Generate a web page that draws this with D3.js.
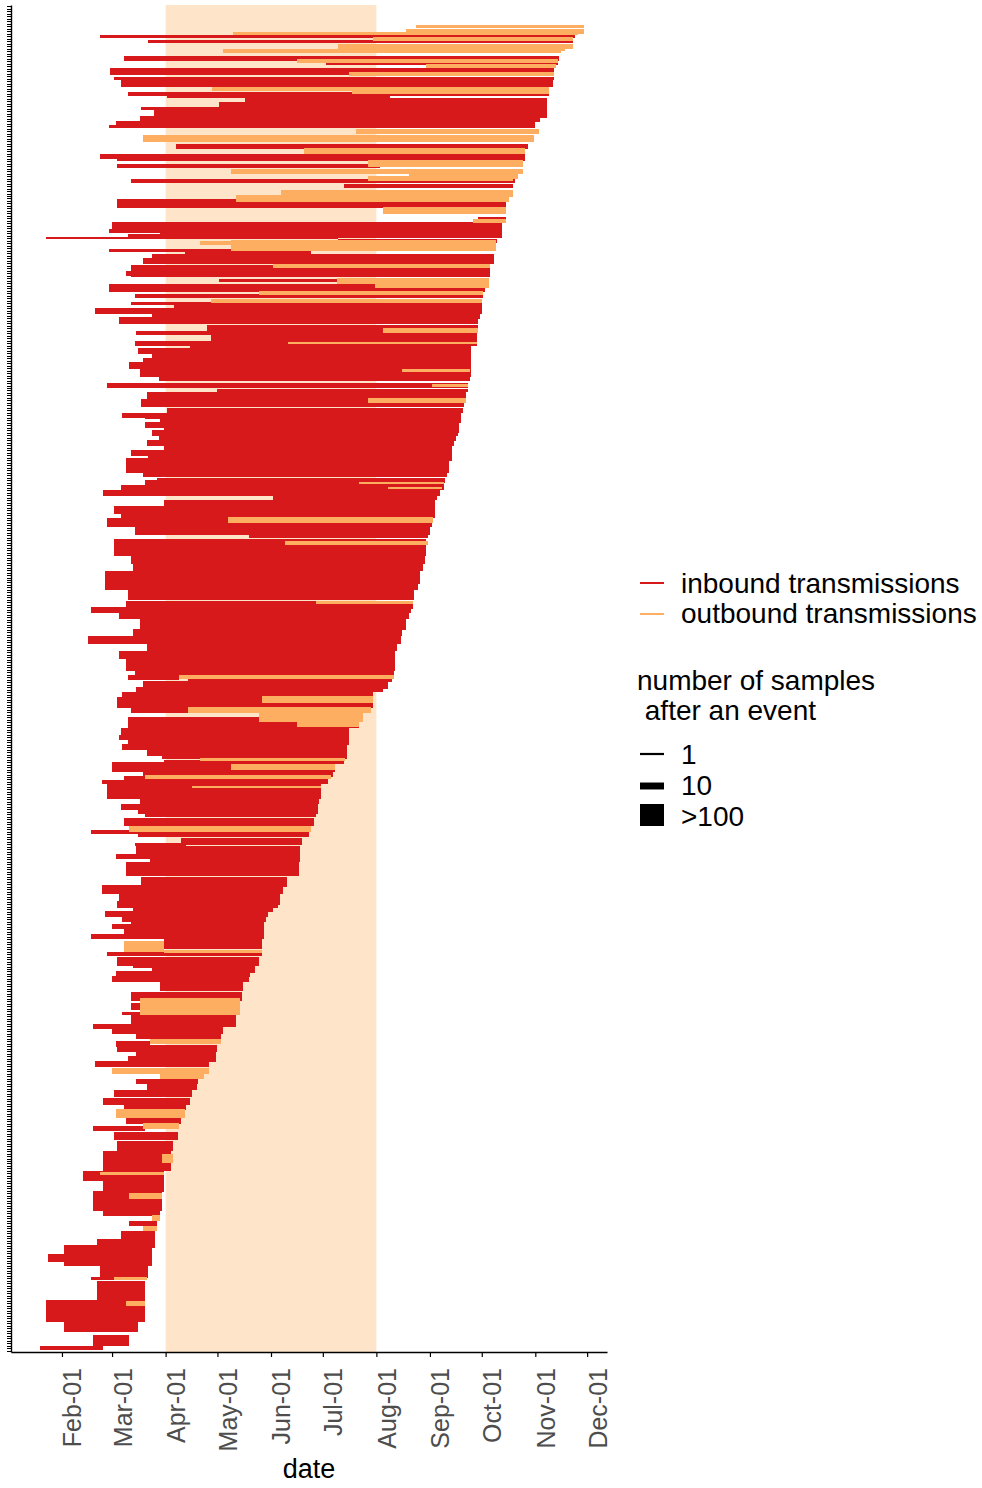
<!DOCTYPE html>
<html>
<head>
<meta charset="utf-8">
<script src="https://cdn.jsdelivr.net/npm/d3@7"></script>
<style>
  body { margin: 0; background: #fff; }
  svg { display: block; font-family: "Liberation Sans", Arial, sans-serif; }
</style>
</head>
<body>
<div id="chart"></div>
<script>
// one row per lineage (1 = top), days counted from 1 Jan 2020
// [row, first day, last day, number of samples]
const rowCount = 540;

const inbound = [
  [13,53,328,2],[15,81,327,2],[22,67,319,5],[24,184,318,1],[27,59,316,10],[30,61,316,2],
  [32,65,315,10],[36,69,313,3],[37,92,221,2],[39,137,312,7],[41,122,312,13],[42,77,312,2],
  [44,84,312,13],[46,76,308,7],[48,62,305,5],[49,58,305,2],[57,97,301,5],[61,53,299,5],
  [62,63,299,3],[65,63,215,3],[71,71,293,3],[73,194,292,5],[80,63,288,17],[86,272,288,1],
  [89,60,286,13],[91,58,286,3],[92,88,286,13],[93,69,286,3],[94,22,191,1],[95,191,283,3],
  [99,58,129,2],[100,102,175,3],[102,83,281,17],[103,78,281,7],[107,71,279,30],[108,68,279,5],
  [111,122,216,2],[114,58,276,13],[117,73,275,4],[120,71,274,2],[122,96,274,21],[123,50,274,7],
  [125,83,273,7],[127,64,272,12],[130,115,272,10],[132,74,271,3],[133,117,271,21],[136,73,271,5],
  [137,105,268,7],[139,75,268,7],[141,83,268,7],[143,78,268,7],[145,70,268,12],[148,76,268,12],
  [150,87,267,7],[153,57,266,7],[155,121,266,3],[157,80,265,12],[160,77,264,12],[163,92,263,7],
  [165,66,262,7],[166,79,122,1],[167,88,262,7],[169,79,261,7],[171,90,261,5],[172,83,260,7],
  [174,87,259,7],[176,80,258,7],[178,90,257,7],[180,71,257,7],[182,81,257,7],[185,68,255,50],
  [188,85,254,3],[189,78,254,3],[191,86,253,5],[192,79,252,5],[194,65,252,5],[196,55,250,7],
  [198,153,248,5],[200,90,247,7],[203,61,247,12],[205,65,247,7],[208,57,245,17],[211,73,244,17],
  [213,139,243,5],[218,61,242,60],[223,71,241,12],[225,76,107,1],[226,72,240,12],[230,56,238,30],
  [233,56,237,2],[234,56,237,7],[235,91,140,1],[237,69,235,21],[241,68,234,12],[243,48,233,7],
  [245,64,232,12],[249,76,230,25],[252,72,228,12],[255,46,227,12],[258,80,225,12],[261,64,224,12],
  [265,68,224,35],[268,73,223,5],[270,69,99,5],[271,104,222,4],[273,78,220,13],[275,74,217,5],
  [277,66,211,6],[280,63,211,25],[283,71,104,7],[288,69,203,25],[292,65,197,12],[294,64,197,5],
  [295,71,197,5],[296,69,197,5],[298,66,196,7],[300,80,196,12],[302,89,196,3],[304,90,194,5],
  [306,60,189,17],[309,78,188,7],[311,67,185,13],[312,54,185,5],[316,57,181,46],[320,76,180,5],
  [322,65,179,7],[324,75,179,5],[325,79,178,5],[328,67,177,12],[332,48,174,3],[333,75,174,7],
  [336,100,170,10],[337,73,103,2],[340,74,169,25],[342,62,169,5],[343,82,169,7],[347,68,168,40],
  [352,77,161,21],[355,54,159,17],[359,64,157,25],[361,63,156,10],[363,72,153,7],[365,56,150,7],
  [367,66,149,7],[369,71,148,3],[370,60,148,5],[373,67,148,21],[374,48,147,7],[377,90,147,21],
  [381,57,147,5],[384,63,145,17],[386,72,107,1],[387,83,143,13],[389,62,140,7],[391,60,139,7],
  [394,88,136,21],[398,71,135,17],[402,71,76,10],[405,66,76,2],[408,71,132,30],[410,49,124,6],
  [412,60,124,5],[414,74,123,7],[417,62,82,7],[419,63,121,10],[421,74,120,7],[423,69,120,7],
  [425,50,116,7],[432,74,110,5],[434,80,109,10],[437,61,106,10],[440,55,105,10],[442,67,103,10],
  [448,68,100,7],[451,49,79,6],[454,61,98,13],[458,63,95,21],[464,55,94,90],[470,43,90,21],
  [474,55,90,35],[480,49,89,83],[485,55,88,7],[489,70,86,6],[495,65,85,40],[497,51,85,17],
  [502,32,83,90],[503,23,83,13],[508,53,81,40],[511,48,61,2],[516,51,79,83],[524,22,79,100],
  [530,32,75,35],[536,49,70,25],[539,18,55,3]
];

const outbound = [
  [9,236,333,3],[11,230,333,5],[12,130,330,2],[14,211,327,3],[17,191,327,4],[18,223,322,3],
  [19,124,320,3],[23,167,318,3],[25,242,317,3],[28,197,316,4],[34,118,313,4],[35,199,313,5],
  [51,201,307,5],[54,78,304,10],[59,171,299,7],[64,208,298,10],[67,129,298,5],[69,232,295,5],
  [70,208,292,5],[76,158,292,10],[78,132,290,8],[83,217,288,10],[87,269,288,4],[96,111,282,3],
  [97,129,282,25],[105,153,279,3],[111,190,278,7],[113,212,278,3],[116,145,275,4],[119,117,274,4],
  [131,217,272,4],[136,162,271,1],[147,228,267,3],[153,245,266,2],[159,208,265,5],[192,203,252,1],
  [194,220,251,1],[207,127,246,7],[216,160,243,3],[240,178,234,3],[270,99,223,4],[279,147,211,10],
  [283,104,210,7],[286,145,205,17],[289,167,203,4],[303,111,195,3],[306,129,189,7],[310,79,187,4],
  [314,106,181,1],[331,70,175,7],[378,67,90,25],[380,90,147,2],[402,76,134,60],[416,82,123,6],
  [428,60,116,7],[430,88,113,8],[445,62,102,17],[450,78,99,6],[463,89,95,17],[469,53,90,3],
  [478,70,89,7],[487,83,88,8],[491,78,86,6],[511,61,80,2],[521,68,79,5]
];

const monthTicks = ["2020-02-01","2020-03-01","2020-04-01","2020-05-01","2020-06-01","2020-07-01",
                    "2020-08-01","2020-09-01","2020-10-01","2020-11-01","2020-12-01"];
const monthLabels = ["Feb-01","Mar-01","Apr-01","May-01","Jun-01","Jul-01",
                     "Aug-01","Sep-01","Oct-01","Nov-01","Dec-01"];
const shadeWindow = ["2020-04-01", "2020-08-01"];
const dirLabels = ["inbound transmissions", "outbound transmissions"];
const sizeTitle = ["number of samples", " after an event"];
const sizeBreaks = [1, 10, 100];
const sizeLabels = ["1", "10", ">100"];

const width = 982, height = 1488;
const plot = { left: 11, right: 607, top: 5, bottom: 1352 };

const parse = d3.utcParse("%Y-%m-%d");
const day = d => new Date(Date.UTC(2020, 0, 1) + d * 864e5);

const svg = d3.select("#chart").append("svg")
    .attr("width", width)
    .attr("height", height);

svg.append("rect").attr("width", width).attr("height", height).attr("fill", "#fff");

// Scales
const x = d3.scaleUtc()
    .domain([day(1.5), day(346.5)])
    .range([plot.left, plot.right]);

const y = d3.scaleLinear()
    .domain([0.4, rowCount + 0.6])
    .range([plot.top, plot.bottom]);

const lw = d3.scaleSqrt().domain([0, 100]).range([0, 22]).clamp(true);

const colour = d3.scaleOrdinal()
    .domain(dirLabels)
    .range(["#D7191C", "#FDAE61"]);

// Shaded window
svg.append("rect")
    .attr("x", x(parse(shadeWindow[0])))
    .attr("width", x(parse(shadeWindow[1])) - x(parse(shadeWindow[0])))
    .attr("y", plot.top)
    .attr("height", plot.bottom - plot.top)
    .attr("fill", "#FEE5C9");

// Segments (crisp edges so touching bars don't leave seams)
function drawSegments(data, label) {
    svg.append("g")
        .attr("shape-rendering", "crispEdges")
        .selectAll("line")
        .data(data)
        .join("line")
        .attr("x1", d => x(day(d[1])))
        .attr("x2", d => x(day(d[2])))
        .attr("y1", d => y(d[0]))
        .attr("y2", d => y(d[0]))
        .attr("stroke", colour(label))
        .attr("stroke-width", d => lw(d[3]))
        .attr("stroke-linecap", "butt");
}
drawSegments(inbound, dirLabels[0]);
drawSegments(outbound, dirLabels[1]);

// Axes
const xAxis = svg.append("g")
    .attr("transform", `translate(0,${plot.bottom})`)
    .call(d3.axisBottom(x)
        .tickValues(monthTicks.map(parse))
        .tickFormat((d, i) => monthLabels[i])
        .tickSize(5)
        .tickSizeOuter(0));
xAxis.select(".domain").attr("stroke", "#000").attr("stroke-width", 1.4);
xAxis.selectAll(".tick line").attr("stroke", "#000").attr("stroke-width", 1.2);
xAxis.selectAll(".tick text")
    .attr("transform", "rotate(-90)")
    .attr("text-anchor", "end")
    .attr("x", -16)
    .attr("y", 19)
    .attr("dy", null)
    .attr("fill", "#4D4D4D")
    .style("font-size", "25px")
    .style("font-family", '"Liberation Sans", Arial, sans-serif');

const yAxis = svg.append("g")
    .attr("transform", `translate(${plot.left},0)`)
    .call(d3.axisLeft(y)
        .tickValues(d3.range(1, rowCount + 1))
        .tickSize(4)
        .tickSizeOuter(0)
        .tickFormat(""));
yAxis.select(".domain").attr("stroke", "#000").attr("stroke-width", 1.4);
yAxis.selectAll(".tick line")
    .attr("stroke", "#000")
    .attr("stroke-width", 1)
    .attr("shape-rendering", "crispEdges");

svg.append("text")
    .attr("x", (plot.left + plot.right) / 2)
    .attr("y", 1478)
    .attr("text-anchor", "middle")
    .style("font-size", "27px")
    .text("date");

// Legend
const leg = svg.append("g").style("font-size", "28px");

dirLabels.forEach((lab, i) => {
    leg.append("line")
        .attr("x1", 640).attr("x2", 664)
        .attr("y1", 583 + i * 31).attr("y2", 583 + i * 31)
        .attr("stroke", colour(lab))
        .attr("stroke-width", 2);
    leg.append("text")
        .attr("x", 681)
        .attr("y", 593 + i * 30)
        .text(lab);
});

sizeTitle.forEach((t, i) => {
    leg.append("text")
        .attr("x", 637)
        .attr("y", 690 + i * 30)
        .style("white-space", "pre")
        .text(t);
});

const keyY = [754, 786, 815];
sizeBreaks.forEach((b, i) => {
    leg.append("line")
        .attr("x1", 640).attr("x2", 664)
        .attr("y1", keyY[i]).attr("y2", keyY[i])
        .attr("stroke", "#000")
        .attr("stroke-width", lw(b));
    leg.append("text")
        .attr("x", 681)
        .attr("y", 764 + i * 31)
        .text(sizeLabels[i]);
});
</script>
</body>
</html>
